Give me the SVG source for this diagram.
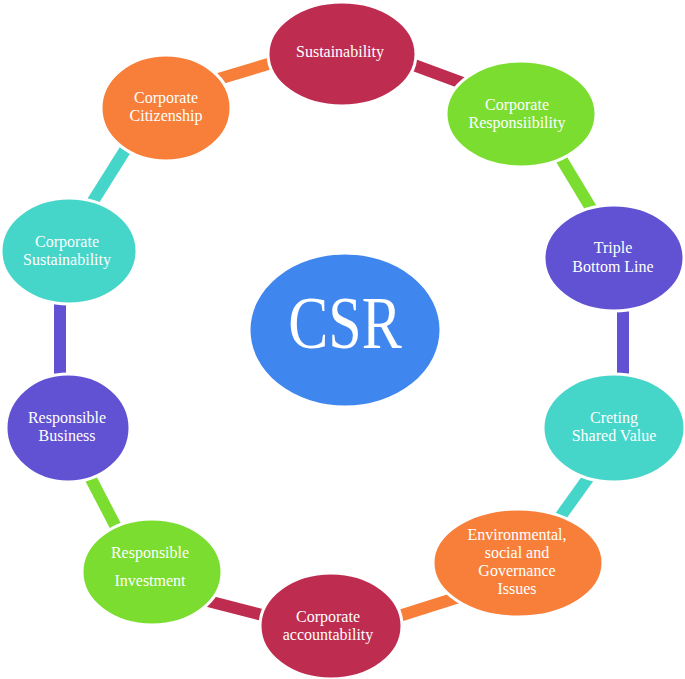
<svg xmlns="http://www.w3.org/2000/svg" width="685" height="679" viewBox="0 0 685 679">
<style>
.n{stroke:#fff;stroke-width:3}
.c{stroke-width:12;fill:none}
.crim{fill:#BE2C50}.grn{fill:#7BDD2F}.pur{fill:#6052D2}.teal{fill:#45D5C9}.org{fill:#F77F3A}
</style>
<rect width="685" height="679" fill="#fff"/>
<g id="connectors">
<line class="c" x1="215" y1="80" x2="275" y2="62" stroke="#F77F3A"/>
<line class="c" x1="407" y1="62.5" x2="466.5" y2="84.5" stroke="#BE2C50"/>
<line class="c" x1="558" y1="153.5" x2="593" y2="211.5" stroke="#7BDD2F"/>
<line class="c" x1="623" y1="300" x2="623" y2="380" stroke="#6052D2"/>
<line class="c" x1="591" y1="474" x2="558" y2="520" stroke="#45D5C9"/>
<line class="c" x1="459" y1="597" x2="396" y2="617" stroke="#F77F3A"/>
<line class="c" x1="268" y1="616.5" x2="202" y2="599.5" stroke="#BE2C50"/>
<line class="c" x1="118.6" y1="532" x2="87.4" y2="472" stroke="#7BDD2F"/>
<line class="c" x1="60" y1="298" x2="60" y2="382" stroke="#6052D2"/>
<line class="c" x1="90.3" y1="205.5" x2="128" y2="145.5" stroke="#45D5C9"/>
</g>
<g font-family="Liberation Serif, Times New Roman, DejaVu Serif, serif" fill="#fff" text-anchor="middle" font-size="16">
<g id="csr">
<ellipse cx="345" cy="330" rx="96" ry="77" fill="#3F87EE" class="n"/>
<text transform="translate(345,348) scale(1,1.22)" font-size="60">CSR</text>
</g>
<g id="sustainability">
<ellipse cx="342" cy="54" rx="74" ry="52" class="n crim"/>
<text x="340" y="57">Sustainability</text>
</g>
<g id="corporate-responsibility">
<ellipse cx="521" cy="114" rx="75" ry="53" class="n grn"/>
<text x="517" y="109.5">Corporate</text>
<text x="517" y="127.5">Responsiibility</text>
</g>
<g id="triple-bottom-line">
<ellipse cx="614" cy="258" rx="70" ry="53" class="n pur"/>
<text x="613" y="253">Triple</text>
<text x="613" y="272">Bottom Line</text>
</g>
<g id="creting-shared-value">
<ellipse cx="614" cy="428" rx="71" ry="54" class="n teal"/>
<text x="614" y="422.5">Creting</text>
<text x="614" y="440.5">Shared Value</text>
</g>
<g id="esg-issues">
<ellipse cx="518" cy="563" rx="85" ry="54" class="n org"/>
<text x="517" y="540">Environmental,</text>
<text x="517" y="558">social and</text>
<text x="517" y="576">Governance</text>
<text x="517" y="594">Issues</text>
</g>
<g id="corporate-accountability">
<ellipse cx="331" cy="626" rx="71" ry="53" class="n crim"/>
<text x="328" y="621.5">Corporate</text>
<text x="328" y="639.5">accountability</text>
</g>
<g id="responsible-investment">
<ellipse cx="152" cy="572" rx="70" ry="53" class="n grn"/>
<text x="150" y="558">Responsible</text>
<text x="150" y="586">Investment</text>
</g>
<g id="responsible-business">
<ellipse cx="68" cy="428" rx="62" ry="54" class="n pur"/>
<text x="67" y="422.5">Responsible</text>
<text x="67" y="440.5">Business</text>
</g>
<g id="corporate-sustainability">
<ellipse cx="69" cy="251" rx="68" ry="53" class="n teal"/>
<text x="67" y="246.5">Corporate</text>
<text x="67" y="264.5">Sustainability</text>
</g>
<g id="corporate-citizenship">
<ellipse cx="166" cy="108" rx="65" ry="53" class="n org"/>
<text x="166" y="102.5">Corporate</text>
<text x="166" y="120.5">Citizenship</text>
</g>
</g>
</svg>
